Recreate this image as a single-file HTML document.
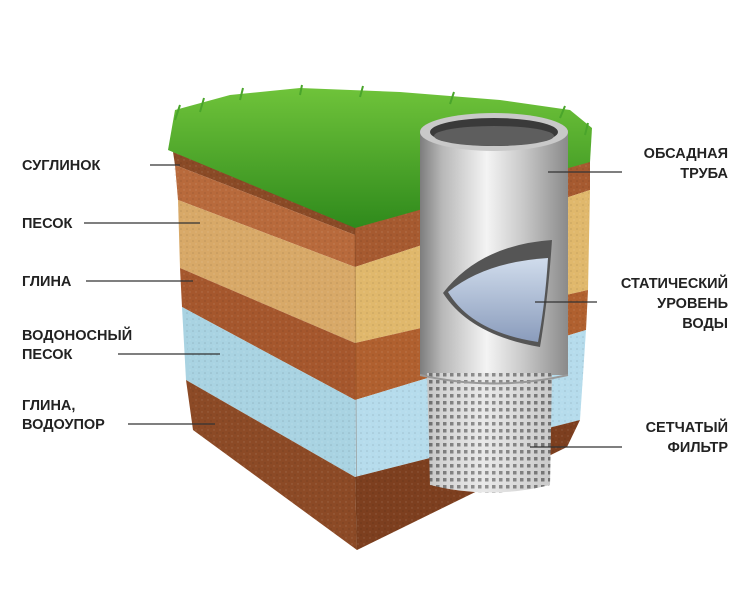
<!DOCTYPE html>
<html><head><meta charset="utf-8"><style>
html,body{margin:0;padding:0;background:#fff}
svg{display:block}
text{font-family:"Liberation Sans","DejaVu Sans",sans-serif;font-weight:bold;font-size:14.5px;fill:#222}
</style></head><body>
<svg width="750" height="599" viewBox="0 0 750 599" xmlns="http://www.w3.org/2000/svg">
<defs>
<pattern id="dots" width="6" height="6" patternUnits="userSpaceOnUse"><circle cx="1" cy="1" r="0.8" fill="#000" opacity="0.12"/><circle cx="4" cy="4" r="0.7" fill="#fff" opacity="0.15"/></pattern>
<pattern id="mesh" width="7" height="7" patternUnits="userSpaceOnUse"><rect width="7" height="7" fill="#e4e4e4"/><rect x="2" y="2" width="3.5" height="3.5" fill="#666"/></pattern>
<linearGradient id="pipe" x1="0" x2="1"><stop offset="0" stop-color="#7d7d7d"/><stop offset="0.15" stop-color="#b8b8b8"/><stop offset="0.45" stop-color="#f4f4f4"/><stop offset="0.7" stop-color="#c8c8c8"/><stop offset="1" stop-color="#8a8a8a"/></linearGradient>
<linearGradient id="grass" x1="0" y1="0" x2="0" y2="1"><stop offset="0" stop-color="#6fc33a"/><stop offset="1" stop-color="#2f8a1c"/></linearGradient>
<linearGradient id="water" x1="0" y1="0" x2="0" y2="1"><stop offset="0" stop-color="#d0dcec"/><stop offset="1" stop-color="#8a9cbc"/></linearGradient>
</defs>
<polygon points="173,152 355,223 355,235 175,165" fill="#8a4a26"/>
<polygon points="175,165 355,235 355,267 178,200" fill="#b86a3c"/>
<polygon points="178,200 355,267 355,343 180,268" fill="#d8a968"/>
<polygon points="180,268 355,343 355,400 182,307" fill="#a5572d"/>
<polygon points="182,307 355,400 355,477 186,380" fill="#a9d3e2"/>
<polygon points="186,380 355,477 357,550 193,430" fill="#8c4a26"/>
<polygon points="355,223 590,160 590,190 355,267" fill="#a65a30"/>
<polygon points="355,267 590,190 588,290 355,343" fill="#e0b86c"/>
<polygon points="355,343 588,290 586,330 355,400" fill="#b0602f"/>
<polygon points="355,400 586,330 580,420 355,477" fill="#b6dcec"/>
<polygon points="355,477 580,420 567,447 357,550" fill="#7d3f1f"/>
<polygon points="173,152 355,223 590,160 586,330 580,420 567,447 357,550 193,430" fill="url(#dots)"/>
<line x1="355" y1="223" x2="357" y2="550" stroke="#6a3a1a" stroke-opacity="0.3"/>
<path d="M168,150 L175,110 L230,95 L300,88 L400,92 L500,100 L570,110 L592,128 L590,162 L355,228 Z" fill="url(#grass)"/>
<path d="M175,120 l5,-15 M200,112 l4,-14 M240,100 l3,-12 M300,95 l2,-10 M360,97 l3,-11 M450,104 l4,-12 M560,118 l5,-12 M585,135 l3,-12" stroke="#4aa52b" stroke-width="2"/>
<rect x="420" y="130" width="148" height="245" fill="url(#pipe)"/>
<ellipse cx="494" cy="132" rx="74" ry="19" fill="#c9c9c9"/>
<ellipse cx="494" cy="132" rx="64" ry="14" fill="#3a3a3a"/>
<ellipse cx="494" cy="136" rx="60" ry="10" fill="#5e5e5e"/>
<path d="M427,373 L552,373 L550,485 Q490,500 430,485 Z" fill="url(#mesh)"/>
<path d="M427,373 L552,373 L550,485 Q490,500 430,485 Z" fill="url(#pipe)" opacity="0.3"/>
<path d="M420,375 Q494,392 568,375" stroke="#999" stroke-width="2" fill="none"/>
<path d="M443,293 Q480,245 552,240 Q548,300 540,347 Q470,335 443,293 Z" fill="#555"/>
<path d="M448,292 Q485,262 548,258 Q545,305 538,342 Q472,332 448,292 Z" fill="url(#water)"/>
<g stroke="#333" stroke-width="1.3">
<line x1="150" y1="165" x2="180" y2="165"/>
<line x1="84" y1="223" x2="200" y2="223"/>
<line x1="86" y1="281" x2="193" y2="281"/>
<line x1="118" y1="354" x2="220" y2="354"/>
<line x1="128" y1="424" x2="215" y2="424"/>
<line x1="548" y1="172" x2="622" y2="172"/>
<line x1="535" y1="302" x2="597" y2="302"/>
<line x1="530" y1="447" x2="622" y2="447"/>
</g>
<text x="22" y="170">СУГЛИНОК</text>
<text x="22" y="228">ПЕСОК</text>
<text x="22" y="286">ГЛИНА</text>
<text x="22" y="340">ВОДОНОСНЫЙ</text>
<text x="22" y="359">ПЕСОК</text>
<text x="22" y="410">ГЛИНА,</text>
<text x="22" y="429">ВОДОУПОР</text>
<g text-anchor="end">
<text x="728" y="158">ОБСАДНАЯ</text>
<text x="728" y="178">ТРУБА</text>
<text x="728" y="288">СТАТИЧЕСКИЙ</text>
<text x="728" y="308">УРОВЕНЬ</text>
<text x="728" y="328">ВОДЫ</text>
<text x="728" y="432">СЕТЧАТЫЙ</text>
<text x="728" y="452">ФИЛЬТР</text>
</g>
</svg>
</body></html>
